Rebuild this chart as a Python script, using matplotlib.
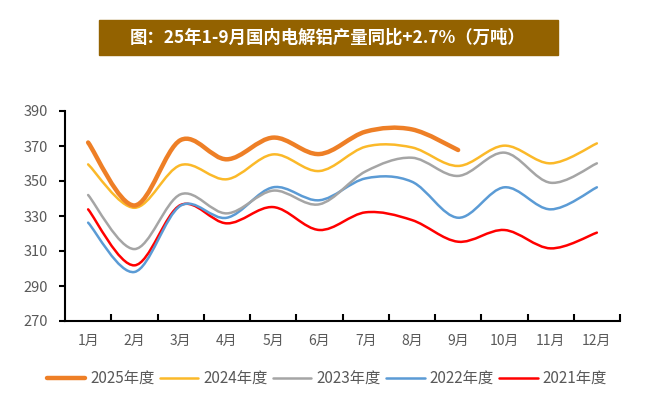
import numpy as np
import matplotlib
matplotlib.use("Agg")
import matplotlib.pyplot as plt
from matplotlib.path import Path
from matplotlib.patches import PathPatch, Rectangle

plt.rcParams['font.family'] = ['Noto Sans CJK SC', 'DejaVu Sans']

months = ['1月', '2月', '3月', '4月', '5月', '6月', '7月', '8月', '9月', '10月', '11月', '12月']
y2025 = [372, 336, 373.4, 362.4, 374.8, 365.4, 378.2, 379.5, 367.7]
y2024 = [359.5, 334.7, 359.1, 351, 365.2, 355.7, 369.6, 369.2, 358.6, 370.2, 360.1, 371.5]
y2023 = [342, 311.1, 342.4, 331.5, 344.5, 336.7, 355.5, 363.3, 352.9, 366.2, 349, 360.1]
y2022 = [326.2, 298, 335.9, 329, 346.4, 339, 351.5, 349.6, 329, 346.4, 333.8, 346.4]
y2021 = [333.8, 301.8, 336.3, 325.8, 335.1, 322, 332.1, 327.7, 315.3, 322, 311.5, 320.5]

series = [
    ('2025年度', y2025, '#EE7F26', 3.2),
    ('2024年度', y2024, '#FBB929', 1.8),
    ('2023年度', y2023, '#A5A5A5', 1.8),
    ('2022年度', y2022, '#5B9BD5', 1.8),
    ('2021年度', y2021, '#FF0000', 1.8),
]


def smooth_path(xs, ys):
    # Excel-style smoothed line: cubic bezier through the points
    p = np.column_stack([xs, ys]).astype(float)
    n = len(p)
    verts = [p[0]]
    codes = [Path.MOVETO]
    for i in range(n - 1):
        p0 = p[i - 1] if i > 0 else p[i]
        p3 = p[i + 2] if i + 2 < n else p[i + 1]
        c1 = p[i] + (p[i + 1] - p0) / 6.0
        c2 = p[i + 1] - (p3 - p[i]) / 6.0
        verts += [c1, c2, p[i + 1]]
        codes += [Path.CURVE4] * 3
    return Path(verts, codes)


fig = plt.figure(figsize=(6.54, 4.05), dpi=100)
ax = fig.add_axes([65 / 654, 84 / 405, 555 / 654, 210 / 405])

# draw older years first so 2025 sits on top
for name, vals, color, lw in reversed(series):
    xs = np.arange(len(vals))
    patch = PathPatch(smooth_path(xs, vals), fill=False, edgecolor=color,
                      linewidth=lw, capstyle='round', joinstyle='round')
    ax.add_patch(patch)

handles = []
for name, vals, color, lw in series:
    h, = ax.plot([], [], color=color, linewidth=lw, solid_capstyle='round', label=name)
    handles.append(h)

ax.set_xlim(-0.5, 11.5)
ax.set_ylim(270, 390)
ax.set_yticks(np.arange(270, 391, 20))
ax.set_xticks(np.arange(12))
ax.set_xticklabels(months)
ax.set_xticks(np.arange(0.5, 12, 1), minor=True)
ax.tick_params(axis='x', which='major', length=0, pad=9, labelsize=10, labelcolor='#595959')
ax.tick_params(axis='x', which='minor', direction='in', length=5, width=1.5, color='black')
ax.tick_params(axis='y', which='major', direction='out', length=4, width=1.5,
               labelsize=10.5, labelcolor='#595959', pad=8)
for s in ['top', 'right']:
    ax.spines[s].set_visible(False)
for s in ['left', 'bottom']:
    ax.spines[s].set_linewidth(1.5)
    ax.spines[s].set_color('black')

# title bar
fig.patches.append(Rectangle((99 / 654, 1 - 55 / 405), 459 / 654, 35 / 405,
                             transform=fig.transFigure, color='#936200', zorder=0))
fig.text(328 / 654, 1 - 38 / 405, '图：25年1-9月国内电解铝产量同比+2.7%（万吨）',
         color='white', fontsize=12.5, fontweight='bold', ha='center', va='center')

fig.legend(handles=handles, loc='center', bbox_to_anchor=(327 / 654, 1 - 379 / 405),
           ncol=5, frameon=False, fontsize=11, labelcolor='#595959',
           handlelength=2.5, handletextpad=0.35, columnspacing=0.35)

plt.savefig('out.png', dpi=100)
